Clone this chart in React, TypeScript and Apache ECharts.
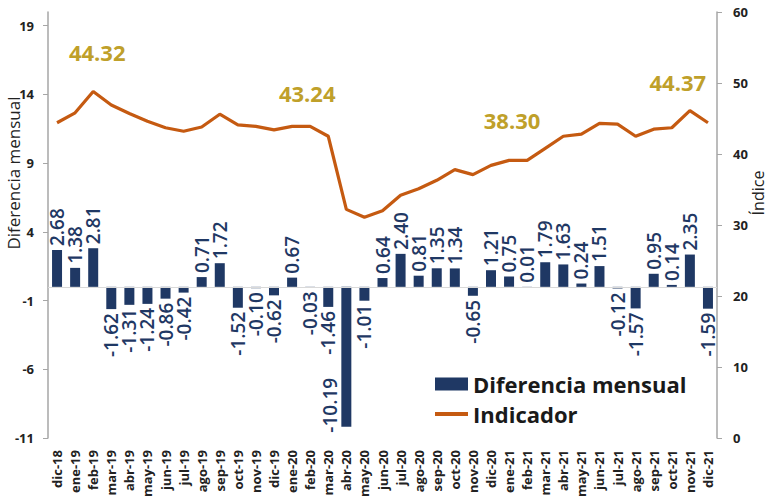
import React, { useEffect, useRef } from "react";
import * as echarts from "echarts";

const categories = ["dic-18","ene-19","feb-19","mar-19","abr-19","may-19","jun-19","jul-19","ago-19","sep-19","oct-19","nov-19","dic-19","ene-20","feb-20","mar-20","abr-20","may-20","jun-20","jul-20","ago-20","sep-20","oct-20","nov-20","dic-20","ene-21","feb-21","mar-21","abr-21","may-21","jun-21","jul-21","ago-21","sep-21","oct-21","nov-21","dic-21"];

const diferencia = [2.68,1.38,2.81,-1.62,-1.31,-1.24,-0.86,-0.42,0.71,1.72,-1.52,-0.10,-0.62,0.67,-0.03,-1.46,-10.19,-1.01,0.64,2.40,0.81,1.35,1.34,-0.65,1.21,0.75,0.01,1.79,1.63,0.24,1.51,-0.12,-1.57,0.95,0.14,2.35,-1.59];

const indicador = [44.4,45.8,48.8,46.9,45.7,44.6,43.7,43.2,43.8,45.6,44.1,43.9,43.4,43.9,43.9,42.5,32.2,31.1,32.0,34.2,35.1,36.3,37.8,37.1,38.4,39.1,39.1,40.8,42.5,42.8,44.3,44.2,42.5,43.5,43.7,46.1,44.4];

const leftTicks = [-11, -6, -1, 4, 9, 14, 19];

const annotationTexts = ["44.32", "43.24", "38.30", "44.37"];
const annotationCats = ["feb-19", "feb-20", "ene-21", "oct-21"];
const annotationValues = [54.4, 48.6, 44.8, 50.1];
const annotationOffsets = [4, -3, 3, 6];

const NAVY = "#1F3864";
const ORANGE = "#C55A11";
const GOLD = "#BFA02A";
const FONT = "'Open Sans', 'Noto Sans', sans-serif";

export default function App() {
  const ref = useRef<HTMLDivElement>(null);
  useEffect(() => {
    if (!ref.current) return;
    const chart = echarts.init(ref.current, undefined, { renderer: "svg" });
    const minLeft = leftTicks[0];
    const barData = diferencia.map((v) => {
      if (v < minLeft + 2) {
        // label would leave the plot: Excel puts it beside the bar
        return {
          value: v,
          label: { position: [-2, "65%"], align: "right", verticalAlign: "bottom" },
        };
      }
      return {
        value: v,
        label:
          v >= 0
            ? { position: "top", align: "left", verticalAlign: "middle" }
            : { position: "bottom", align: "right", verticalAlign: "middle" },
      };
    });
    chart.setOption({
      animation: false,
      textStyle: { fontFamily: FONT },
      grid: { left: 48, right: 52, top: 12, bottom: 61, containLabel: false, outerBoundsMode: "none" },
      legend: {
        orient: "vertical",
        left: 430,
        top: 368,
        itemWidth: 33,
        itemHeight: 13,
        itemGap: 8,
        textStyle: { fontSize: 22, fontWeight: "bold", color: "#1a1a1a", fontFamily: FONT },
        data: [
          { name: "Diferencia mensual", icon: "rect" },
          { name: "Indicador", icon: "path://M0 0H33V4H0Z" },
        ],
      },
      xAxis: {
        type: "category",
        data: categories,
        axisLine: { show: false },
        axisTick: { show: false },
        axisLabel: {
          interval: 0,
          rotate: 90,
          fontSize: 13,
          fontWeight: "bold",
          color: "#222",
          margin: 12,
        },
      },
      yAxis: [
        {
          type: "value",
          min: -11,
          max: 20,
          position: "left",
          splitLine: { show: false },
          axisLine: { show: true, lineStyle: { color: "#a6a6a6", width: 1.5 } },
          axisTick: { show: true, length: 5, customValues: leftTicks, lineStyle: { color: "#a6a6a6" } },
          axisLabel: {
            customValues: leftTicks,
            fontSize: 13,
            fontWeight: "bold",
            color: "#222",
            margin: 14,
          },
        },
        {
          type: "value",
          min: 0,
          max: 60,
          interval: 10,
          position: "right",
          splitLine: { show: false },
          axisLine: { show: true, lineStyle: { color: "#a6a6a6", width: 1.5 } },
          axisTick: { show: true, length: 5, lineStyle: { color: "#a6a6a6" } },
          axisLabel: { fontSize: 13, fontWeight: "bold", color: "#222", margin: 16 },
        },
      ],
      graphic: [
        {
          type: "text",
          x: 13,
          y: 173,
          rotation: Math.PI / 2,
          style: {
            text: "Diferencia mensual",
            fontSize: 17,
            fontFamily: FONT,
            fill: "#222",
            textAlign: "center",
            textVerticalAlign: "middle",
          },
        },
        {
          type: "text",
          x: 758,
          y: 193,
          rotation: Math.PI / 2,
          style: {
            text: "Índice",
            fontSize: 16,
            fontFamily: FONT,
            fill: "#222",
            textAlign: "center",
            textVerticalAlign: "middle",
          },
        },
      ],
      series: [
        {
          name: "Diferencia mensual",
          type: "bar",
          yAxisIndex: 0,
          barWidth: 10,
          itemStyle: { color: NAVY },
          data: barData,
          label: {
            show: true,
            rotate: 90,
            distance: 4,
            fontSize: 19,
            fontWeight: 600,
            color: NAVY,
            fontFamily: FONT,
            formatter: (p: any) => Number(p.value).toFixed(2),
          },
          markLine: {
            silent: true,
            symbol: "none",
            label: { show: false },
            lineStyle: { color: "#d9d9d9", width: 1, type: "solid" },
            data: [{ yAxis: 0 }],
          },
        },
        {
          name: "Indicador",
          type: "line",
          yAxisIndex: 1,
          symbol: "none",
          lineStyle: { color: ORANGE, width: 3.2 },
          itemStyle: { color: ORANGE },
          data: indicador,
          markPoint: {
            symbol: "circle",
            symbolSize: 0,
            data: annotationTexts.map((t, i) => ({
              coord: [annotationCats[i], annotationValues[i]],
              label: {
                show: true,
                position: "inside",
                formatter: t,
                offset: [annotationOffsets[i], 0],
                fontSize: 22,
                fontWeight: "bold",
                color: GOLD,
                fontFamily: FONT,
              },
            })),
          },
        },
      ],
    });
    return () => chart.dispose();
  }, []);
  return <div ref={ref} style={{ width: 769, height: 499, position: "absolute", left: 0, top: 0 }} />;
}
